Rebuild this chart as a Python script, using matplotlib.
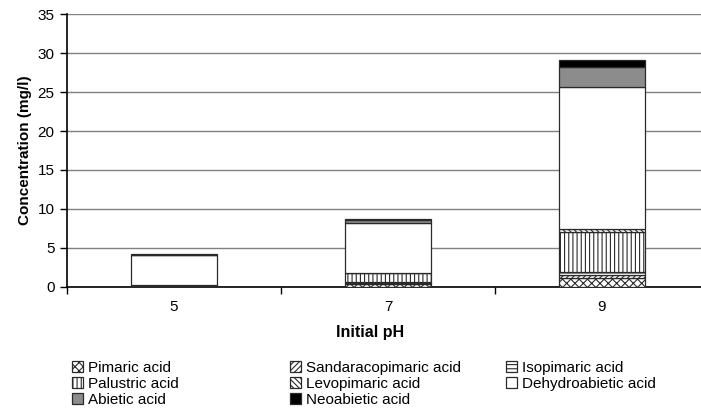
import matplotlib
matplotlib.use("Agg")
import matplotlib.pyplot as plt
import numpy as np

plt.rcParams['font.family'] = ['Liberation Sans', 'DejaVu Sans']
plt.rcParams['hatch.linewidth'] = 0.8

ph = ["5", "7", "9"]
acids = ["Pimaric acid", "Sandaracopimaric acid", "Isopimaric acid",
         "Palustric acid", "Levopimaric acid", "Dehydroabietic acid",
         "Abietic acid", "Neoabietic acid"]

pimaric = [0.1, 0.3, 1.05]
sandaracopimaric = [0.05, 0.15, 0.4]
isopimaric = [0.05, 0.15, 0.45]
palustric = [0.0, 1.1, 5.15]
levopimaric = [0.0, 0.1, 0.4]
dehydroabietic = [3.85, 6.4, 18.25]
abietic = [0.05, 0.35, 2.55]
neoabietic = [0.05, 0.2, 0.85]

series = [pimaric, sandaracopimaric, isopimaric, palustric,
          levopimaric, dehydroabietic, abietic, neoabietic]
colors = ["white", "white", "white", "white", "white", "white", "#8c8c8c", "black"]
hatches = ["xxxx", "//////", "----", "||||", "\\\\\\\\\\\\", "", "", ""]

fig = plt.figure(figsize=(7.01, 4.12), dpi=100)
ax = fig.add_axes([67 / 701, 125.5 / 412, 642 / 701, 272 / 412])

x = np.arange(len(ph))
bottom = np.zeros(len(ph))
handles = []
for vals, c, h, name in zip(series, colors, hatches, acids):
    bars = ax.bar(x, vals, width=0.4, bottom=bottom, color=c, hatch=h,
                  edgecolor="#2a2a2a", linewidth=0.9, label=name, zorder=3)
    bottom += np.array(vals)
    handles.append(bars)

ax.set_xlim(-0.5, 2.5)
ax.set_ylim(0, 35)
ax.set_yticks(np.arange(0, 36, 5))
ax.yaxis.grid(True, color="#808080", linewidth=1.0, zorder=0)
ax.set_axisbelow(True)

ax.set_xticks(x)
ax.set_xticklabels(ph)
ax.set_xticks([-0.5, 0.5, 1.5, 2.5], minor=True)
ax.tick_params(axis="x", which="major", length=0, labelsize=11, pad=10)
ax.tick_params(axis="x", which="minor", length=5, width=1, color="black")
ax.tick_params(axis="y", length=5, width=1, labelsize=11, pad=4)

for s in ["top", "right"]:
    ax.spines[s].set_visible(False)
ax.spines["left"].set_color("black")
ax.spines["bottom"].set_color("black")
ax.spines["left"].set_linewidth(1.2)
ax.spines["bottom"].set_linewidth(1.2)

ax.set_ylabel("Concentration (mg/l)", fontsize=11, fontweight="bold", labelpad=4)
fig.text(370 / 701, 1 - 333 / 412, "Initial pH", fontsize=11.5, fontweight="bold",
         ha="center", va="center")

# legend laid out row by row, three columns placed by hand
col_x = [72, 290, 506]
for i, cx in enumerate(col_x):
    idx = list(range(i, len(acids), 3))
    fig.legend(handles=[handles[k] for k in idx], labels=[acids[k] for k in idx],
               loc="upper left", bbox_to_anchor=(cx / 701, 1 - 361 / 412),
               frameon=False, fontsize=11, handlelength=0.7, handleheight=0.7,
               handletextpad=0.35, labelspacing=0.12, borderaxespad=0,
               borderpad=0)

fig.savefig("out.png", dpi=100)
